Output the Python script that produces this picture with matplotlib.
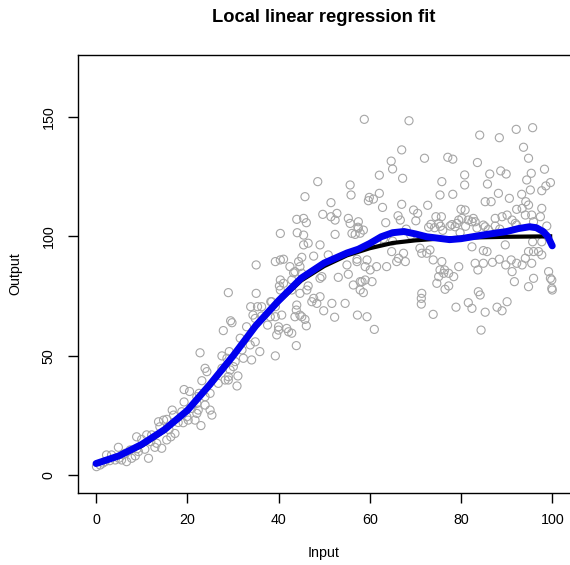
import matplotlib
matplotlib.use("Agg")
import matplotlib.pyplot as plt

plt.rcParams['font.family'] = ['Liberation Sans', 'DejaVu Sans']

obs_pairs = [
    # x 0-23
    (0.1,3.5),(0.9,4.2),(1.5,5.0),(2.0,5.6),(2.3,8.4),(3.0,6.0),(3.4,8.4),(4.2,6.3),(4.9,11.6),
    (5.0,7.0),(5.6,6.3),(6.0,8.5),(6.4,9.1),(6.7,5.6),(7.5,10.5),(7.8,7.0),(8.6,8.0),(8.9,16.0),
    (9.0,11.0),(9.3,9.8),(10.0,14.9),(10.7,10.8),(11.1,16.8),(11.5,7.0),(12.0,14.0),(12.2,16.8),
    (12.9,11.6),(13.3,13.3),(13.7,22.3),(14.0,20.2),(14.4,11.2),(14.8,23.0),(15.5,23.3),(15.5,14.7),
    (16.0,19.0),(16.4,16.0),(16.7,27.2),(17.0,25.1),(17.3,17.4),(18.0,22.0),(18.8,26.5),(19.3,35.8),
    (19.3,30.6),(19.1,21.9),(19.9,24.4),(20.2,23.0),(20.5,35.0),(21.0,27.9),(21.7,23.0),(22.1,30.0),
    (22.1,32.8),(22.1,25.8),(22.4,27.2),(22.6,34.2),(22.8,51.2),(23.0,20.7),(23.2,39.5),
    # x 23-42
    (23.9,44.7),(23.9,32.8),(23.9,29.3),(24.3,43.3),(25.0,34.2),(25.0,27.2),(25.4,25.1),(26.8,38.4),
    (27.6,49.9),(27.6,44.7),(27.9,60.5),(28.3,39.8),(28.7,48.9),(29.0,76.4),(29.0,41.2),(29.0,39.8),
    (29.2,51.7),(29.4,44.0),(29.5,64.6),(29.8,63.8),(30.1,45.4),(30.5,47.5),(30.9,37.3),(31.1,41.5),
    (31.6,57.3),(32.0,52.4),(32.3,48.9),(33.0,62.1),(33.8,54.5),(33.9,70.5),(34.1,48.2),(34.4,67.0),
    (34.9,65.6),(34.9,55.8),(35.1,76.1),(35.1,88.0),(35.4,70.5),(35.9,51.7),(36.3,70.5),(36.3,66.6),
    (37.6,62.8),(38.2,66.3),(38.3,72.6),(39.6,58.7),(40.0,62.1),(40.2,79.2),(42.2,60.0),
    # x 38-58
    (38.5,72.6),(39.3,70.5),(39.3,66.3),(39.3,49.9),(39.3,89.4),(40.0,60.7),(40.4,101.2),(40.4,90.1),
    (40.4,81.7),(40.4,77.5),(40.7,67.0),(41.1,90.4),(41.1,80.3),(41.8,61.4),(42.5,87.3),(42.9,81.7),
    (42.9,77.5),(42.9,59.4),(43.3,84.7),(43.6,85.2),(43.6,66.3),(43.9,69.1),(43.9,54.2),(44.0,107.1),
    (44.0,71.2),(44.1,101.5),(44.4,89.4),(44.7,76.1),(44.7,67.0),(44.7,87.3),(45.1,84.5),(45.1,91.2),
    (45.1,66.3),(45.5,107.5),(45.5,100.5),(45.5,96.4),(45.8,116.6),(45.8,65.2),(46.1,105.7),(46.1,62.5),
    (46.2,77.5),(46.5,97.1),(46.5,79.2),(47.3,72.6),(47.7,91.7),(47.7,74.0),(48.4,71.9),(48.6,122.9),
    (49.1,96.4),(49.1,82.4),(49.1,74.7),(49.5,83.1),(49.7,109.2),(49.9,68.8),(50.9,92.2),(51.5,114.1),
    (51.5,108.2),(51.7,71.9),(52.3,66.1),(52.4,106.8),(52.4,100.8),(52.8,109.6),(53.1,82.8),(54.6,71.9),
    (55.0,88.0),(55.3,107.5),(55.3,84.1),(55.7,121.5),(55.7,105.4),(55.9,117.3),(56.1,101.2),(56.4,79.6),
    (56.8,100.8),(57.2,90.4),(57.3,67.0),(57.5,103.4),(57.9,77.5),(58.3,81.0),
    # x 57-76
    (57.2,89.4),(57.4,103.8),(57.5,106.1),(57.9,101.3),(57.9,81.0),(58.6,76.4),(58.6,102.6),(58.8,149.0),
    (59.0,87.3),(59.0,81.7),(59.4,90.1),(59.4,66.3),(59.7,114.9),(59.9,116.3),(60.1,85.9),(60.5,81.0),
    (60.8,115.6),(61.0,61.0),(61.5,87.3),(61.5,97.5),(62.1,125.6),(62.1,118.0),(62.8,112.1),(63.0,99.0),
    (63.5,105.7),(63.7,87.3),(64.7,131.5),(64.8,93.6),(65.0,128.2),(65.0,98.0),(65.9,89.4),(66.2,108.6),
    (66.3,90.8),(66.7,106.8),(67.0,136.2),(67.0,113.4),(67.2,124.3),(67.4,92.9),(67.8,89.4),(68.0,103.0),
    (68.6,148.4),(69.0,100.5),(69.6,111.0),(70.1,106.5),(70.5,109.6),(71.0,95.0),(71.3,74.0),(71.3,71.6),
    (71.4,92.9),(71.4,76.1),(72.0,132.7),(72.5,92.9),(72.7,113.0),(72.9,103.8),(73.2,94.3),(73.4,105.0),
    (73.9,90.1),(73.9,67.3),(74.2,103.6),(74.5,108.2),(74.7,80.3),(75.1,83.1),(75.1,105.4),(75.4,117.3),
    (75.4,85.9),(75.5,104.2),(75.7,108.2),(75.8,122.9),(76.2,84.5),
    # x 75-92
    (75.8,89.4),(76.0,102.5),(76.4,85.9),(76.5,77.8),(77.1,133.1),(77.3,84.5),(77.3,79.2),(77.6,104.3),
    (78.0,104.9),(78.2,132.3),(78.2,117.6),(78.4,83.1),(78.7,104.0),(78.9,70.3),(79.1,105.4),(79.5,106.8),
    (79.5,87.3),(79.8,101.5),(80.0,111.3),(80.2,107.5),(80.8,125.7),(80.8,121.5),(80.9,111.0),(81.0,104.2),
    (81.6,106.8),(81.6,72.2),(82.4,106.1),(82.4,95.6),(82.4,69.8),(82.7,107.5),(83.1,106.1),(83.1,88.7),
    (83.5,103.5),(83.6,130.9),(83.7,85.9),(83.8,76.8),(84.1,142.4),(84.2,75.4),(84.4,60.7),(84.9,104.7),
    (84.9,94.0),(84.9,88.7),(85.3,114.5),(85.3,104.0),(85.3,68.2),(85.7,93.6),(85.8,121.9),(86.0,102.8),
    (86.3,126.1),(86.6,114.5),(86.9,89.1),(87.5,107.5),(87.5,104.3),(87.9,70.3),(88.2,118.0),(88.4,141.3),
    (88.4,90.4),(88.5,103.0),(88.7,127.4),(89.0,108.2),(89.0,68.8),(89.7,96.4),(89.8,88.0),(89.9,126.1),
    (90.1,108.9),(90.1,72.6),(90.6,115.9),(91.0,90.1),(91.2,106.8),(91.2,85.2),(91.7,81.0),
    # x 89-100
    (91.9,105.4),(92.1,144.8),(92.2,111.3),(92.2,104.7),(92.2,88.7),(93.3,117.6),(93.4,111.7),(93.4,88.0),
    (93.7,137.3),(94.1,108.9),(94.1,90.8),(94.2,114.5),(94.4,123.6),(94.8,132.7),(94.8,113.1),(94.8,93.6),
    (94.8,78.9),(95.2,119.4),(95.4,126.4),(95.5,108.9),(95.5,88.7),(95.7,145.5),(95.7,97.7),(95.9,106.1),
    (95.9,93.6),(95.9,82.4),(97.0,93.6),(97.4,108.2),(97.7,119.1),(97.7,111.7),(97.7,97.7),(97.7,92.2),
    (98.3,128.1),(98.6,121.1),(98.8,104.3),(99.2,85.2),(99.6,122.5),(99.6,82.4),(99.9,81.7),(99.9,78.2),
    (100.0,77.5),
]
obs_input = [p[0] for p in obs_pairs]
obs_output = [p[1] for p in obs_pairs]

# ---- true curve (black) ----
true_input = [0, 5, 10, 15, 20, 25, 30, 35, 40, 45, 50, 55, 60, 65, 70, 75, 80, 85, 90, 95, 100]
true_output = [4.8, 7.8, 12.2, 18.5, 27.0, 37.5, 49.5, 62.0, 72.5, 81.5, 87.5, 92.0, 95.0, 97.2,
               98.3, 99.0, 99.4, 99.6, 99.8, 99.9, 100.0]

# ---- local linear fit (blue) ----
fit_input = [0, 5, 10, 15, 20, 25, 30, 35, 40, 45, 50, 55, 57.5, 60, 62.5, 65, 67.5, 70, 72.5, 75,
             77.5, 80, 82.5, 85, 87.5, 90, 92.5, 95, 96.5, 98, 99, 100]
fit_output = [4.8, 8.0, 12.8, 19.0, 27.0, 38.0, 49.8, 62.5, 73.0, 82.5, 88.8, 93.0, 94.6, 97.0,
              99.8, 101.5, 102.0, 101.0, 99.8, 99.2, 98.6, 99.0, 99.8, 100.6, 101.3, 102.0, 103.2,
              104.0, 103.6, 102.0, 100.0, 96.0]

x_ticks = [0, 20, 40, 60, 80, 100]
y_ticks = [0, 50, 100, 150]

W, H = 570, 565
fig = plt.figure(figsize=(W / 100, H / 100), dpi=100)
left, right, bottom, top = 78, 570.5, 492.5, 55
ax = fig.add_axes([left / W, (H - bottom) / H, (right - left) / W, (bottom - top) / H])

ax.scatter(obs_input, obs_output, s=34, facecolors='none', edgecolors='#a6a6a6', linewidths=0.8, zorder=2)
ax.plot(true_input, true_output, color='black', lw=3.0, solid_capstyle='butt', solid_joinstyle='round', zorder=3)
ax.plot(fit_input, fit_output, color='#0000ee', lw=5.0, solid_capstyle='round', solid_joinstyle='round', zorder=4)

ax.set_xlim(-3.95, 104.0)
ax.set_ylim(-7.33, 175.95)
ax.set_xticks(x_ticks)
ax.set_yticks(y_ticks)
ax.set_xticklabels([str(v) for v in x_ticks])
ax.set_yticklabels([str(v) for v in y_ticks], rotation=90, va='center')
ax.tick_params(direction='out', length=7, width=1, labelsize=10.3, colors='black', pad=8)
ax.tick_params(axis='y', pad=9)
for s in ax.spines.values():
    s.set_linewidth(1)
    s.set_color('black')

fig.text(324 / W, 1 - 18 / H, 'Local linear regression fit', ha='center', va='center',
         fontsize=13.2, fontweight='bold')
fig.text(324 / W, 1 - 553 / H, 'Input', ha='center', va='center', fontsize=10.3)
fig.text(15 / W, 1 - 273.5 / H, 'Output', ha='center', va='center', rotation=90, fontsize=10.3)

fig.savefig('out.png', dpi=100)
